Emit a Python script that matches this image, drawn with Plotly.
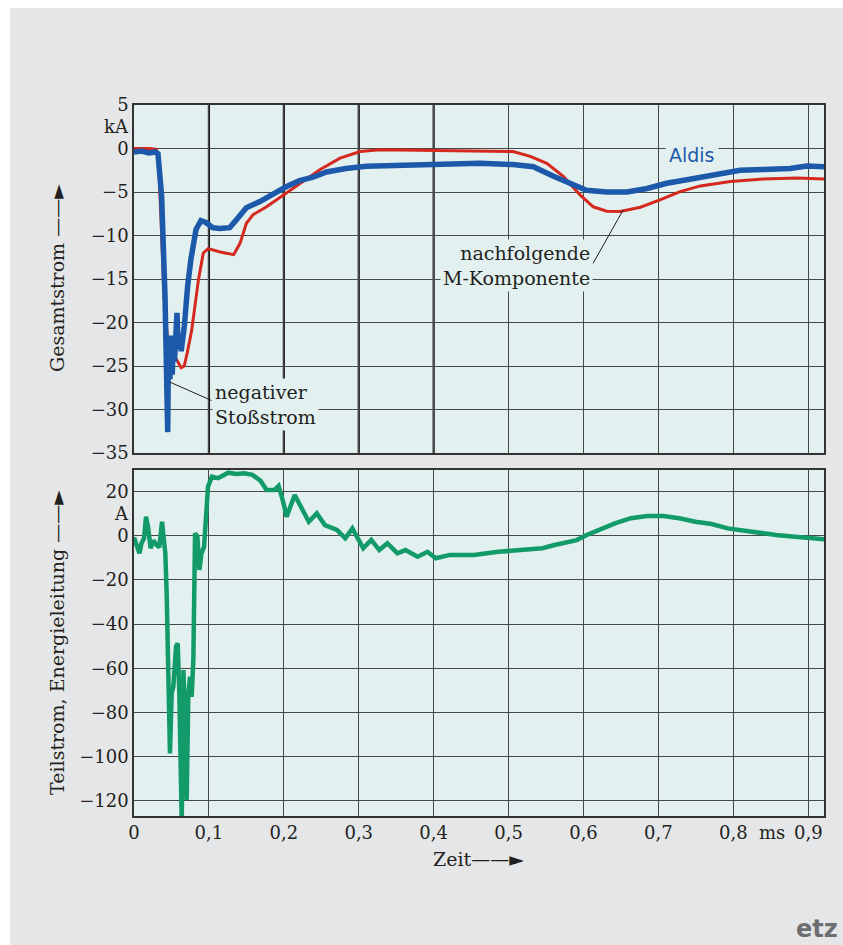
import plotly.graph_objects as go

# ---------------- data (time in ms) ----------------
red_t = [0, 0.02, 0.030, 0.033, 0.036, 0.040, 0.045, 0.055, 0.063, 0.067, 0.071, 0.077, 0.086, 0.0925,
         0.099, 0.115, 0.133, 0.1415, 0.150, 0.159, 0.177, 0.200, 0.222, 0.248, 0.275, 0.302, 0.328,
         0.40, 0.475, 0.506, 0.529, 0.551, 0.573, 0.595, 0.613, 0.631, 0.649, 0.676, 0.702, 0.729,
         0.756, 0.796, 0.840, 0.885, 0.921]
red_v = [0, 0, -0.1, -2, -8, -17, -22, -24, -25.2, -25.0, -23.5, -20.9, -15.1, -12.0,
         -11.5, -11.9, -12.2, -10.9, -8.6, -7.6, -6.7, -5.3, -4.0, -2.45, -1.1, -0.35, -0.15,
         -0.2, -0.25, -0.35, -0.9, -1.7, -3.2, -5.3, -6.7, -7.2, -7.25, -6.75, -5.9, -4.95,
         -4.3, -3.8, -3.5, -3.4, -3.5]

blue_t = [0, 0.01, 0.02, 0.028, 0.032, 0.0369, 0.0414, 0.0436, 0.0445, 0.045, 0.0458, 0.047, 0.048,
          0.0495, 0.051, 0.0525, 0.054, 0.0555, 0.0574, 0.059, 0.061, 0.063, 0.0672, 0.0716, 0.076,
          0.0828, 0.0894, 0.096, 0.105, 0.114, 0.1277, 0.1366, 0.150, 0.168, 0.185, 0.203, 0.221,
          0.239, 0.257, 0.283, 0.310, 0.328, 0.373, 0.417, 0.462, 0.506, 0.533, 0.560, 0.582, 0.604,
          0.631, 0.658, 0.685, 0.711, 0.738, 0.774, 0.809, 0.840, 0.876, 0.898, 0.921]
blue_v = [-0.4, -0.3, -0.5, -0.4, -0.6, -5.5, -17, -26, -27, -32.6, -25, -22, -26.5,
          -21.5, -26, -22, -24.5, -20.5, -18.9, -23, -21.5, -23.3, -20.4, -15.8, -12.7,
          -9.3, -8.3, -8.5, -9.1, -9.2, -9.1, -8.2, -6.8, -6.1, -5.2, -4.4, -3.7,
          -3.3, -2.7, -2.3, -2.05, -2.0, -1.85, -1.7, -1.7, -1.85, -2.1, -3.2, -4.0, -4.8,
          -5.0, -5.0, -4.6, -4.0, -3.6, -3.1, -2.5, -2.4, -2.3, -2.0, -2.1]

green_t = [0, 0.0037, 0.0073, 0.010, 0.0134, 0.016, 0.0187, 0.0222, 0.026, 0.0302, 0.0338, 0.0374,
           0.040, 0.0418, 0.0436, 0.0458, 0.048, 0.0503, 0.0525, 0.0561, 0.0583, 0.0605, 0.0623,
           0.0637, 0.066, 0.0686, 0.0703, 0.0725, 0.0748, 0.077, 0.0792, 0.0815, 0.0846, 0.0873,
           0.090, 0.0935, 0.097, 0.0988, 0.104, 0.1123, 0.1258, 0.1364, 0.1473, 0.158, 0.1688,
           0.177, 0.1876, 0.193, 0.1984, 0.2038, 0.2145, 0.2252, 0.2333, 0.244, 0.2548, 0.2709,
           0.282, 0.2915, 0.298, 0.306, 0.3167, 0.3274, 0.3382, 0.3516, 0.3623, 0.3785, 0.3918,
           0.4027, 0.4215, 0.4538, 0.486, 0.5183, 0.5451, 0.5613, 0.5774, 0.5909, 0.6043, 0.6204,
           0.6419, 0.6634, 0.6849, 0.7064, 0.7279, 0.7494, 0.771, 0.7925, 0.814, 0.8355, 0.857,
           0.8785, 0.90, 0.9215]
green_v = [-0.8, -5, -8.0, -3.4, -1.2, 8.6, 4.1, -5.7, -2.2, -4.2, -5.2, 6.3,
           -2.2, -8.0, -26, -71.3, -98.5, -71.3, -68.3, -50.2, -48.7, -71.3, -116.6,
           -130, -60.8, -101.5, -119.6, -71.3, -63.8, -72.9, -56.2, 1.1, -0.4, -15.5,
           -8, -5, 19.2, 22.2, 26.7, 26, 28.5, 27.9, 28.2, 27.5, 24.9,
           20.7, 20.7, 22.5, 16.2, 8.6, 18.4, 11.6, 6.3, 10.1, 4.8, 2.6,
           -1.2, 3.3, -1.2, -5.7, -1.9, -6.5, -3.4, -8, -6.5, -9.5, -7.3,
           -10.2, -8.7, -8.7, -7.3, -6.5, -5.7, -4.2, -2.8, -2.0, 0.3, 2.6,
           5.6, 7.9, 8.9, 8.9, 7.9, 6.3, 5.3, 3.3, 2.3, 0.8, 0.3,
           -0.4, -1.2, -1.6]

x_tickvals = [0, 0.1, 0.2, 0.3, 0.4, 0.5, 0.6, 0.7, 0.8, 0.9]
x_ticktext = ["0", "0,1", "0,2", "0,3", "0,4", "0,5", "0,6", "0,7", "0,8", "0,9"]
top_tickvals = [5, 0, -5, -10, -15, -20, -25, -30, -35]
top_ticktext = ["5", "0", "\u22125", "\u221210", "\u221215", "\u221220", "\u221225", "\u221230", "\u221235"]
bot_tickvals = [20, 0, -20, -40, -60, -80, -100, -120]
bot_ticktext = ["20", "0", "\u221220", "\u221240", "\u221260", "\u221280", "\u2212100", "\u2212120"]

# ---------------- style ----------------
RED = "#d5281f"
BLUE = "#1c59aa"
GREEN = "#129a68"
PLOTBG = "#e2f0f0"
PAPER = "#e5e6e8"
TXT = "#231f20"
GRID = "#474747"
SERIF = "DejaVu Serif"

fig = go.Figure()
fig.add_trace(go.Scatter(x=red_t, y=red_v, mode="lines", line=dict(color=RED, width=3),
                         xaxis="x", yaxis="y", showlegend=False, hoverinfo="skip"))
fig.add_trace(go.Scatter(x=blue_t, y=blue_v, mode="lines", line=dict(color=BLUE, width=5.5),
                         xaxis="x", yaxis="y", showlegend=False, hoverinfo="skip"))
fig.add_trace(go.Scatter(x=green_t, y=green_v, mode="lines", line=dict(color=GREEN, width=4.5),
                         xaxis="x2", yaxis="y2", showlegend=False, hoverinfo="skip"))

axis_common = dict(showline=True, mirror=True, linecolor="#333333", linewidth=1.5,
                   showgrid=True, gridcolor=GRID, gridwidth=1.2, zeroline=False,
                   ticks="", tickfont=dict(family=SERIF, size=18, color=TXT))

fig.update_layout(
    width=843, height=945,
    margin=dict(l=134, r=19, t=105, b=129),
    paper_bgcolor=PAPER, plot_bgcolor=PLOTBG,
    xaxis=dict(axis_common, range=[0, 0.921], tickvals=x_tickvals, showticklabels=False,
               anchor="y"),
    yaxis=dict(axis_common, domain=[0.5105, 1], range=[-35, 5], tickvals=top_tickvals,
               ticktext=top_ticktext, anchor="x", ticklabelstandoff=0),
    xaxis2=dict(axis_common, range=[0, 0.921], tickvals=x_tickvals, ticktext=x_ticktext,
                anchor="y2", ticklabelstandoff=0),
    yaxis2=dict(axis_common, domain=[0, 0.4866], range=[-126.8, 29.7], tickvals=bot_tickvals,
                ticktext=bot_ticktext, anchor="x2", ticklabelstandoff=0),
)

shapes = []
# white strips at the top and left of the page
shapes.append(dict(type="rect", xref="paper", yref="paper", x0=-0.3, x1=1.2,
                   y0=(816 - 8) / 711, y1=1.3, fillcolor="white", line_width=0, layer="below"))
shapes.append(dict(type="rect", xref="paper", yref="paper", x0=-0.3, x1=(10 - 134) / 689.7,
                   y0=-0.3, y1=1.3, fillcolor="white", line_width=0, layer="below"))
# bold gridlines 0.1..0.4 in the upper panel
for xv in [0.1, 0.2, 0.3, 0.4]:
    shapes.append(dict(type="line", xref="x", yref="y domain", x0=xv, x1=xv, y0=0, y1=1,
                       line=dict(color="#1a1a1a", width=2.2), layer="below"))
fig.update_layout(shapes=shapes)

ann = []
af = dict(family=SERIF, size=19, color=TXT)
tf = dict(family=SERIF, size=18, color=TXT)
# units
ann.append(dict(text="kA", xref="paper", x=0, xanchor="right", yanchor="middle", xshift=-3,
                yref="y", y=2.5, showarrow=False, font=tf))
ann.append(dict(text="A", xref="paper", x=0, xanchor="right", yanchor="middle", xshift=-3,
                yref="y2", y=10, showarrow=False, font=tf))
ann.append(dict(text="ms", xref="x2", x=0.852, xanchor="center", yref="paper", y=0,
                yanchor="middle", yshift=-16, showarrow=False, font=tf))
# axis titles
ann.append(dict(text="Gesamtstrom \u2014\u2014\u25BA", xref="paper", x=(57 - 134) / 689.7,
                xanchor="center", yanchor="middle",
                yref="paper", y=(816 - 278) / 711, textangle=-90, showarrow=False, font=af))
ann.append(dict(text="Teilstrom, Energieleitung \u2014\u2014\u25BA", xref="paper",
                x=(57 - 134) / 689.7, xanchor="center", yanchor="middle",
                yref="paper", y=(816 - 642) / 711, textangle=-90, showarrow=False, font=af))
ann.append(dict(text="Zeit\u2014\u2014\u25BA", xref="paper", x=(478 - 134) / 689.7,
                xanchor="center", yanchor="middle", yref="paper", y=(816 - 859) / 711,
                showarrow=False, font=af))
# labels in the upper panel
ann.append(dict(text="negativer<br>Stoßstrom", xref="x", x=0.1035, xanchor="left",
                yanchor="middle", yref="y", y=-29.4, align="left", showarrow=False, font=af,
                bgcolor=PLOTBG, borderpad=2))
ann.append(dict(text="", xref="x", x=0.048, yref="y", y=-26.85, showarrow=True,
                arrowhead=0, arrowwidth=1, arrowcolor=TXT, ax=43, ay=19, standoff=0))
ann.append(dict(text="nachfolgende<br>M-Komponente", xref="x", x=0.6125, xanchor="right",
                yanchor="middle", yref="y", y=-13.5, align="right", showarrow=False, font=af,
                bgcolor=PLOTBG, borderpad=2))
ann.append(dict(text="", xref="x", x=0.653, yref="y", y=-7.05, showarrow=True,
                arrowhead=0, arrowwidth=1, arrowcolor=TXT, ax=-31, ay=55, standoff=0))
ann.append(dict(text="Aldis", xref="x", x=0.7443, xanchor="center", yanchor="middle",
                yref="y", y=-0.75, showarrow=False,
                font=dict(family="DejaVu Sans", size=19, color=BLUE), bgcolor=PLOTBG,
                borderpad=3))
# logo
ann.append(dict(text="<b>etz</b>", xref="paper", x=(840 - 134) / 689.7, xanchor="right",
                yref="paper", y=(816 - 929) / 711, yanchor="middle", showarrow=False,
                font=dict(family="DejaVu Sans", size=24, color="#6d6e70")))
fig.update_layout(annotations=ann)

fig.write_html("out.html", config={"displayModeBar": False},
               post_script="document.body.style.margin='0px';")
